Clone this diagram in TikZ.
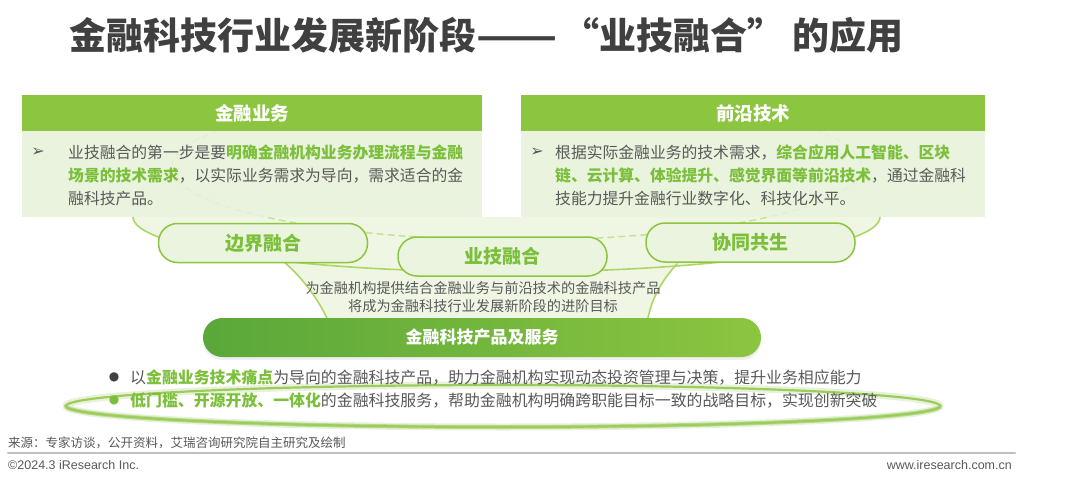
\documentclass[tikz,border=0pt]{standalone}
\usepackage{fontspec}
\setmainfont{Noto Sans CJK SC}
\newfontfamily\latinfont{Liberation Sans}
\newfontfamily\symfont{DejaVu Sans}
\usetikzlibrary{shadows}

\definecolor{hdgreen}{HTML}{8CC540}
\definecolor{bodygreen}{HTML}{E7F2DA}
\definecolor{keygreen}{HTML}{7BBF3A}
\definecolor{pillfill}{HTML}{EAF4DE}
\definecolor{txtgray}{HTML}{595959}
\definecolor{titlegray}{HTML}{404040}
\definecolor{funnelline}{HTML}{AED664}
\definecolor{funnelfill}{HTML}{EFF6E3}
\definecolor{dashgreen}{HTML}{C8E296}
\definecolor{bardark}{HTML}{5AA73A}
\definecolor{ringgreen}{HTML}{9CCB5E}
\definecolor{rulegray}{HTML}{BFBFBF}

\newcommand{\kw}[1]{{\color{keygreen}\bfseries #1}}

\begin{document}
\begin{tikzpicture}[x=1pt, y=-1pt, line join=round, line cap=round,
    head/.style={fill=hdgreen, text=white, font=\fontsize{18.5}{20}\selectfont\bfseries, minimum height=36, inner sep=0},
    body/.style={fill=bodygreen, fill opacity=.88, minimum height=86, inner sep=0},
    bodytext/.style={anchor=north west, align=left, inner sep=0, text=txtgray, font=\fontsize{15.8}{23}\selectfont},
    bulletmark/.style={inner sep=0, text=txtgray, font=\symfont\fontsize{12}{14}\selectfont},
    pill/.style={draw=hdgreen, line width=1.5, fill=pillfill, rounded corners=19, minimum width=209, minimum height=39, inner sep=0, text=keygreen, font=\fontsize{19}{20}\selectfont\bfseries},
    funnel/.style={draw=funnelline, line width=1.6},
    bullettext/.style={anchor=west, inner sep=0, text=txtgray, font=\fontsize{15.9}{18}\selectfont}]
% 画布
\useasboundingbox (0,0) rectangle (1080,479);
\fill[white] (0,0) rectangle (1080,479);

% 标题
\node[anchor=west, inner sep=0, text=titlegray, font=\fontsize{37}{40}\selectfont\bfseries] (title) at (69,35) {金融科技行业发展新阶段\scalebox{1.28}[1]{——}\kern5pt“业技融合”\kern8pt的应用};

% 漏斗底色
\fill[funnelfill] (133,217) arc[start angle=180, end angle=0, x radius=373.5, y radius=55] -- cycle;
\fill[funnelfill] (283,261) .. controls (305,280) and (318,300) .. (327,318) -- (648,318) .. controls (652,296) and (662,278) .. (677,264) -- cycle;

% 虚线椭圆与漏斗轮廓
\draw[dashgreen, line width=1.5, dash pattern=on 6pt off 5pt] (218.2,130.5) arc[start angle=210, end angle=-30, x radius=345, y radius=73];
\draw[funnel] (133,217) arc[start angle=180, end angle=0, x radius=373.5, y radius=55];
\draw[funnel] (283,261) .. controls (305,280) and (318,300) .. (327,318);
\draw[funnel] (677,264) .. controls (662,280) and (652,298) .. (648,318);

% 金融业务
\node[head, minimum width=460] (bizhead) at (252,113) {金融业务};
\node[body, minimum width=460, anchor=north] (bizbody) at (bizhead.south) {};
\node[bulletmark, font=\symfont\fontsize{16}{18}\selectfont] (bizmark) at (38,152) {➢};
\node[bodytext] (biztext) at (68,145) {业技融合的第一步是要\kw{明确金融机构业务办理流程与金融}\\
\kw{场景的技术需求}，以实际业务需求为导向，需求适合的金\\
融科技产品。};

% 前沿技术
\node[head, minimum width=464] (techhead) at (753,113) {前沿技术};
\node[body, minimum width=464, anchor=north] (techbody) at (techhead.south) {};
\node[bulletmark, font=\symfont\fontsize{16}{18}\selectfont] (techmark) at (537,152) {➢};
\node[bodytext] (techtext) at (555,145) {根据实际金融业务的技术需求，\kw{综合应用人工智能、区块}\\
\kw{链、云计算、体验提升、感觉界面等前沿技术}，通过金融科\\
技能力提升金融行业数字化、科技化水平。};

% 三个融合
\node[pill] (bianjie) at (263,243) {边界融合};
\node[pill] (yeji) at (502.5,256.5) {业技融合};
\node[pill] (xietong) at (750.5,242.5) {协同共生};

% 进阶目标
\node[align=center, inner sep=0, text=txtgray, font=\fontsize{14.2}{18}\selectfont] (goal) at (483,297) {为金融机构提供结合金融业务与前沿技术的金融科技产品\\将成为金融科技行业发展新阶段的进阶目标};

% 产品及服务
\node[left color=bardark, right color=hdgreen, rounded corners=19.5, minimum width=558, minimum height=39, inner sep=0,
      drop shadow={opacity=.12, shadow xshift=0pt, shadow yshift=-3pt},
      text=white, font=\fontsize{17}{20}\selectfont\bfseries] (product) at (482,337.5) {金融科技产品及服务};

% 底部光环
\draw[ringgreen!40, line width=7, opacity=.6] (503,406) ellipse[x radius=437, y radius=21];
\draw[ringgreen!70, line width=4] (66,406) arc[start angle=180, end angle=0, x radius=437, y radius=21];
\draw[ringgreen, line width=2.2] (503,406) ellipse[x radius=437, y radius=21];

% 要点
\node[bulletmark, text=titlegray] (dotone) at (114,377) {●};
\node[bullettext] (lineone) at (130,377) {以\kw{金融业务技术痛点}为导向的金融科技产品，助力金融机构实现动态投资管理与决策，提升业务相应能力};
\node[bulletmark, text=keygreen] (dottwo) at (114,400) {●};
\node[bullettext] (linetwo) at (130,400) {\kw{低门槛、开源开放、一体化}的金融科技服务，帮助金融机构明确跨职能目标一致的战略目标，实现创新突破};

% 页脚
\node[anchor=west, inner sep=0, text=txtgray, font=\fontsize{12.5}{14}\selectfont] (source) at (8,443) {来源：专家访谈，公开资料，艾瑞咨询研究院自主研究及绘制};
\draw[rulegray, line width=2] (8,453) -- (1015,453);
\node[anchor=west, inner sep=0, text=txtgray, font=\latinfont\fontsize{12.5}{14}\selectfont] (copyright) at (8,465) {©2024.3 iResearch Inc.};
\node[anchor=east, inner sep=0, text=txtgray, font=\latinfont\fontsize{12.5}{14}\selectfont] (website) at (1012,465) {www.iresearch.com.cn};
\end{tikzpicture}
\end{document}
